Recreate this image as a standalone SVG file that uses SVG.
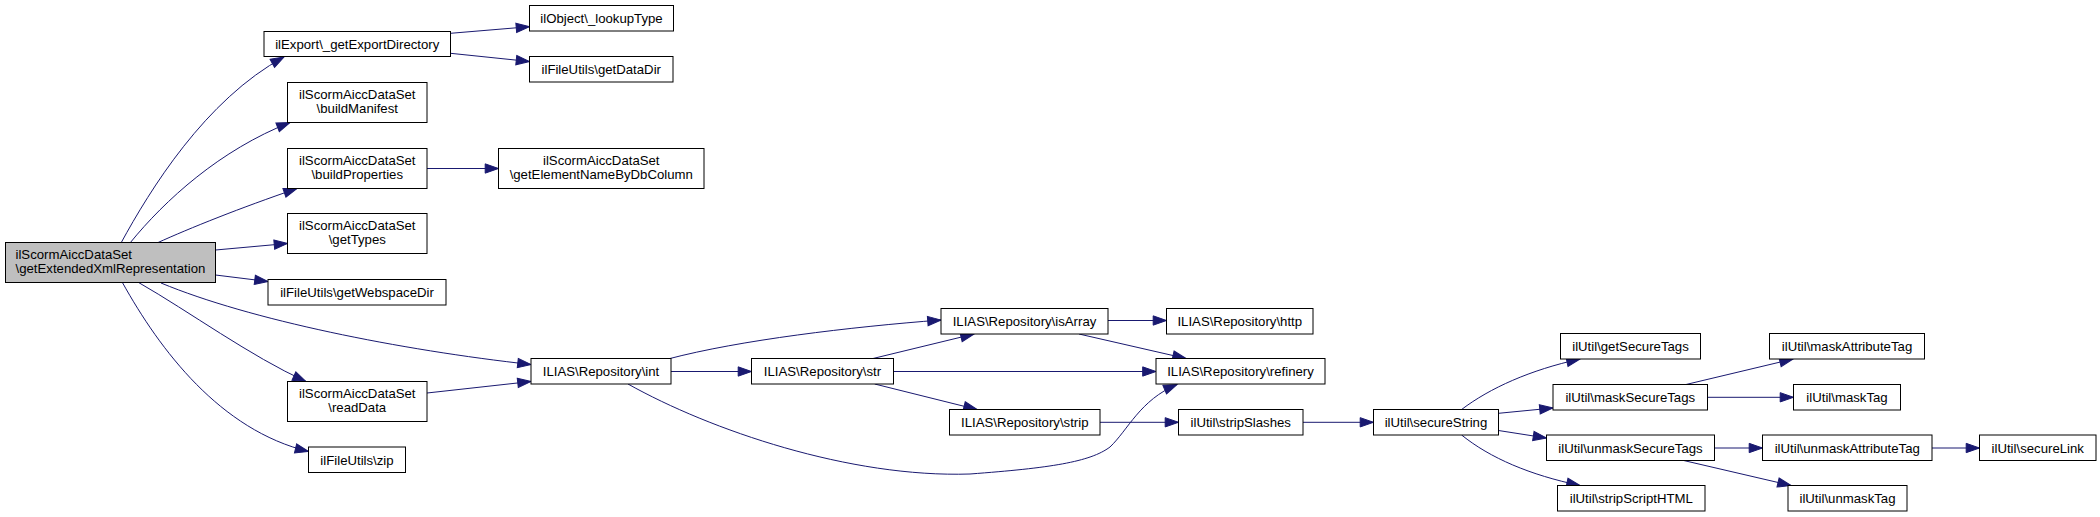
<svg xmlns="http://www.w3.org/2000/svg" width="2100" height="517" viewBox="0 0 2100 517">
<style>
  .node rect { fill: #ffffff; stroke: #000000; stroke-width: 1; }
  .node.root rect { fill: #bfbfbf; }
  .node text { font-family: "Liberation Sans", Arial, sans-serif; font-size: 13.2px; fill: #000000; text-anchor: middle; }
  .node.root text { text-anchor: start; }
  .edges path { fill: none; stroke: #191970; stroke-width: 1; marker-end: url(#ah); }
</style>
<defs>
  <marker id="ah" markerUnits="userSpaceOnUse" markerWidth="16" markerHeight="12" refX="13.3" refY="4.65" orient="auto" overflow="visible">
    <path d="M0,0 L13.3,4.65 L0,9.3 Z" fill="#191970" stroke="#191970" stroke-width="1"/>
  </marker>
</defs>
<rect x="0" y="0" width="2100" height="517" fill="#ffffff"/>

<g id="connectors" class="edges">
  <path d="M121,243 C150,190 205,100 284,57"/>
  <path d="M130,243 C165,200 220,150 290,122.5"/>
  <path d="M157,243 C190,228 240,208 297,188.5"/>
  <path d="M215.5,250 L287.5,243.5"/>
  <path d="M215.5,275 L268,281.5"/>
  <path d="M161,283 C250,320 400,350 531,364.5"/>
  <path d="M138.6,282.5 C190,312 250,356 306,381.5"/>
  <path d="M122.4,282.5 C160,350 220,430 308.5,451.5"/>
  <path d="M450.5,33.3 L529.5,26.7"/>
  <path d="M450.5,53.3 L529.5,61.5"/>
  <path d="M427,168.5 L498.5,168.5"/>
  <path d="M427,393 L531,381.5"/>
  <path d="M668,359 C740,340 850,327 941,320"/>
  <path d="M671,371.5 L751.5,371.5"/>
  <path d="M628,384 C710,430 850,478 970,474 C1050,468 1090,462 1110,447 C1128,430 1140,400 1177,384.5"/>
  <path d="M873,358.5 L974,334"/>
  <path d="M893.5,371.5 L1156,371.5"/>
  <path d="M874.7,384 L977,409.5"/>
  <path d="M1108,320.5 L1166.5,320.5"/>
  <path d="M1079,334 L1186,358.5"/>
  <path d="M1100,422.3 L1178.5,422.3"/>
  <path d="M1303,422.3 L1373.5,422.3"/>
  <path d="M1461.6,409.5 C1490,388 1530,370 1580,359"/>
  <path d="M1498.5,413.3 L1553,408"/>
  <path d="M1498.5,430.5 L1546.5,438"/>
  <path d="M1461.6,435 C1490,458 1530,475 1580,485.5"/>
  <path d="M1686,384.5 L1793,359"/>
  <path d="M1707.5,397.3 L1793.5,397.3"/>
  <path d="M1714.5,448 L1762.5,448"/>
  <path d="M1683.7,460.5 L1791,485.5"/>
  <path d="M1932,448 L1979.5,448"/>
</g>

<g id="n0" class="node root"><rect x="5.5" y="242.5" width="210" height="40"/><text x="15.5" y="259">ilScormAiccDataSet</text><text x="15.5" y="273.3">\getExtendedXmlRepresentation</text></g>
<g id="n1" class="node"><rect x="264" y="31.5" width="186.5" height="25"/><text x="357.25" y="48.5">ilExport\_getExportDirectory</text></g>
<g id="n2" class="node"><rect x="529.5" y="5.5" width="144" height="25.5"/><text x="601.5" y="23">ilObject\_lookupType</text></g>
<g id="n3" class="node"><rect x="529.5" y="56.5" width="143.5" height="25.5"/><text x="601.25" y="74">ilFileUtils\getDataDir</text></g>
<g id="n4" class="node"><rect x="287.5" y="82.5" width="139.5" height="40"/><text x="357.25" y="99">ilScormAiccDataSet</text><text x="357.25" y="113">\buildManifest</text></g>
<g id="n5" class="node"><rect x="287.5" y="148.5" width="139.5" height="40"/><text x="357.25" y="165">ilScormAiccDataSet</text><text x="357.25" y="179">\buildProperties</text></g>
<g id="n6" class="node"><rect x="498.5" y="148.5" width="205.5" height="40"/><text x="601.25" y="165">ilScormAiccDataSet</text><text x="601.25" y="179">\getElementNameByDbColumn</text></g>
<g id="n7" class="node"><rect x="287.5" y="213.5" width="139.5" height="40"/><text x="357.25" y="230">ilScormAiccDataSet</text><text x="357.25" y="244">\getTypes</text></g>
<g id="n8" class="node"><rect x="268" y="279.5" width="178" height="25.5"/><text x="357" y="297">ilFileUtils\getWebspaceDir</text></g>
<g id="n9" class="node"><rect x="531" y="358.5" width="140" height="25.5"/><text x="601" y="376">ILIAS\Repository\int</text></g>
<g id="n10" class="node"><rect x="287.5" y="381.5" width="139.5" height="40"/><text x="357.25" y="398">ilScormAiccDataSet</text><text x="357.25" y="412">\readData</text></g>
<g id="n11" class="node"><rect x="308.5" y="447" width="97" height="25.5"/><text x="357" y="464.5">ilFileUtils\zip</text></g>
<g id="n12" class="node"><rect x="941" y="308.5" width="167" height="25.5"/><text x="1024.5" y="326">ILIAS\Repository\isArray</text></g>
<g id="n13" class="node"><rect x="751.5" y="358.5" width="142" height="25.5"/><text x="822.5" y="376">ILIAS\Repository\str</text></g>
<g id="n14" class="node"><rect x="1166.5" y="308.5" width="146.5" height="25.5"/><text x="1239.75" y="326">ILIAS\Repository\http</text></g>
<g id="n15" class="node"><rect x="1156" y="358.5" width="169" height="25.5"/><text x="1240.5" y="376">ILIAS\Repository\refinery</text></g>
<g id="n16" class="node"><rect x="949.5" y="409.5" width="150.5" height="25.5"/><text x="1024.75" y="427">ILIAS\Repository\strip</text></g>
<g id="n17" class="node"><rect x="1178.5" y="409.5" width="124.5" height="25.5"/><text x="1240.75" y="427">ilUtil\stripSlashes</text></g>
<g id="n18" class="node"><rect x="1373.5" y="409.5" width="125" height="25.5"/><text x="1436" y="427">ilUtil\secureString</text></g>
<g id="n19" class="node"><rect x="1560.5" y="333.5" width="140" height="25.5"/><text x="1630.5" y="351">ilUtil\getSecureTags</text></g>
<g id="n20" class="node"><rect x="1553" y="384.5" width="154.5" height="25.5"/><text x="1630.25" y="402">ilUtil\maskSecureTags</text></g>
<g id="n21" class="node"><rect x="1546.5" y="435" width="168" height="25.5"/><text x="1630.5" y="452.5">ilUtil\unmaskSecureTags</text></g>
<g id="n22" class="node"><rect x="1557.5" y="485.5" width="147.5" height="25.5"/><text x="1631.25" y="503">ilUtil\stripScriptHTML</text></g>
<g id="n23" class="node"><rect x="1769.5" y="333.5" width="155" height="25.5"/><text x="1847" y="351">ilUtil\maskAttributeTag</text></g>
<g id="n24" class="node"><rect x="1793.5" y="384.5" width="107" height="25.5"/><text x="1847" y="402">ilUtil\maskTag</text></g>
<g id="n25" class="node"><rect x="1762.5" y="435" width="169.5" height="25.5"/><text x="1847.25" y="452.5">ilUtil\unmaskAttributeTag</text></g>
<g id="n26" class="node"><rect x="1788" y="485.5" width="119" height="25.5"/><text x="1847.5" y="503">ilUtil\unmaskTag</text></g>
<g id="n27" class="node"><rect x="1979.5" y="435" width="116.5" height="25.5"/><text x="2037.75" y="452.5">ilUtil\secureLink</text></g>
</svg>
